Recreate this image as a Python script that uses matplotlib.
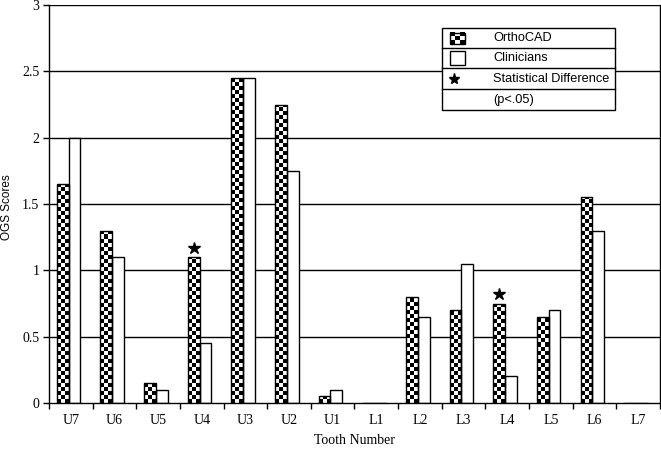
import numpy as np
import matplotlib
matplotlib.use("Agg")
import matplotlib.pyplot as plt
from matplotlib.patches import Rectangle
from matplotlib.lines import Line2D

# Donnees
teeth = ["U7", "U6", "U5", "U4", "U3", "U2", "U1",
         "L1", "L2", "L3", "L4", "L5", "L6", "L7"]
orthocad = [1.65, 1.3, 0.15, 1.1, 2.45, 2.25, 0.05,
            0, 0.8, 0.7, 0.75, 0.65, 1.55, 0]
clinicians = [2.0, 1.1, 0.1, 0.45, 2.45, 1.75, 0.1,
              0, 0.65, 1.05, 0.2, 0.7, 1.3, 0]
significant = ["U4", "L4"]
yticks = [0, 0.5, 1, 1.5, 2, 2.5, 3]

W, H = 661, 449
fig = plt.figure(figsize=(W / 100, H / 100), dpi=100)
ax = fig.add_axes([49 / W, (H - 403) / H, 611 / W, 398 / H])

serif = "Liberation Serif"
sans = "Liberation Sans"

x = np.arange(len(teeth))
bw = 0.27
x_o = x - bw / 2 - 0.05
x_c = x + bw / 2 - 0.05

# grille derriere les barres
for v in yticks[1:]:
    ax.axhline(v, color="black", lw=1, zorder=0)

# remplissage blanc
ax.bar(x_o, orthocad, bw, color="white", edgecolor="none", zorder=2)
ax.bar(x_c, clinicians, bw, color="white", edgecolor="none", zorder=2)

# damier pour OrthoCAD (cases d'environ 4 px)
px_x = 611 / 14.0
px_y = 398 / 3.0
cell = 4.0
bars_o = ax.bar(x_o, orthocad, bw, facecolor="none", edgecolor="black", lw=1, zorder=4)
for b in bars_o:
    h = b.get_height()
    if h <= 0:
        continue
    x0 = b.get_x()
    nc = int(np.ceil(bw * px_x / cell))
    nr = int(np.ceil(h * px_y / cell))
    chk = (np.add.outer(np.arange(nr), np.arange(nc)) % 2).astype(float)
    im = ax.imshow(chk, cmap="gray", vmin=0, vmax=1, interpolation="nearest",
                   aspect="auto", origin="lower",
                   extent=(x0, x0 + nc * cell / px_x, 0, nr * cell / px_y), zorder=3)
    im.set_clip_path(b)
ax.bar(x_c, clinicians, bw, facecolor="none", edgecolor="black", lw=1, zorder=4)

# etoiles de difference statistique
for t in significant:
    i = teeth.index(t)
    ax.plot(x_o[i], orthocad[i] + 0.07, marker="*", color="black", ms=9, zorder=5)

ax.set_xlim(-0.5, len(teeth) - 0.5)
ax.set_ylim(0, 3)
ax.set_yticks(yticks)
ax.set_yticklabels([f"{v:g}" for v in yticks], fontfamily=serif, fontsize=10)
ax.set_xticks(np.arange(len(teeth) + 1) - 0.5)
ax.set_xticklabels([])
ax.set_xticks(x, minor=True)
ax.set_xticklabels(teeth, minor=True, fontfamily=serif, fontsize=10)
ax.tick_params(axis="x", which="minor", length=0, pad=8)
ax.tick_params(axis="x", which="major", direction="out", length=4, width=1)
ax.tick_params(axis="y", direction="out", length=4, width=1, pad=3)
ax.spines["top"].set_visible(False)
for s in ["left", "bottom", "right"]:
    ax.spines[s].set_linewidth(1)
ax.set_xlabel("Tooth Number", fontfamily=serif, fontsize=10, labelpad=5)


def fx(p):
    return p / W


def fy(p):
    return 1 - p / H


fig.text(fx(7), fy(207), "OGS Scores", fontfamily=sans, fontsize=8.5,
         rotation=90, ha="center", va="center")

# legende en tableau
L, R, T, B = 442, 615, 28, 110
rows = [28, 48, 68, 89, 110]
tr = fig.transFigure
fig.patches.append(Rectangle((fx(L), fy(B)), fx(R) - fx(L), fy(T) - fy(B),
                             transform=tr, facecolor="white", edgecolor="black",
                             lw=1, zorder=10))
for r in rows[1:-1]:
    fig.lines.append(Line2D([fx(L), fx(R)], [fy(r), fy(r)], transform=tr,
                            color="black", lw=1, zorder=11))
labels = ["OrthoCAD", "Clinicians", "Statistical Difference", "(p<.05)"]
for k, lab in enumerate(labels):
    yc = (rows[k] + rows[k + 1]) / 2
    fig.text(fx(493), fy(yc), lab, fontfamily=sans, fontsize=9.2,
             va="center", ha="left", zorder=12)

# symboles
sw, sh = 15, 11
yc0 = (rows[0] + rows[1]) / 2
n = 3
for i in range(n):
    for j in range(n):
        c = "black" if (i + j) % 2 == 0 else "white"
        cw, chh = sw / n, sh / n
        fig.patches.append(Rectangle((fx(450 + j * cw), fy(yc0 - sh / 2 + (i + 1) * chh)),
                                     cw / W, chh / H, transform=tr, facecolor=c,
                                     edgecolor="none", zorder=12))
fig.patches.append(Rectangle((fx(450), fy(yc0 + sh / 2)), sw / W, sh / H, transform=tr,
                             facecolor="none", edgecolor="black", lw=1, zorder=13))
yc1 = (rows[1] + rows[2]) / 2
fig.patches.append(Rectangle((fx(450), fy(yc1 + 6.5)), 15 / W, 13 / H, transform=tr,
                             facecolor="white", edgecolor="black", lw=1, zorder=13))
yc2 = (rows[2] + rows[3]) / 2
fig.lines.append(Line2D([fx(454)], [fy(yc2)], transform=tr, marker="*",
                        color="black", ms=8, zorder=13))

fig.savefig("out.png", dpi=100)
